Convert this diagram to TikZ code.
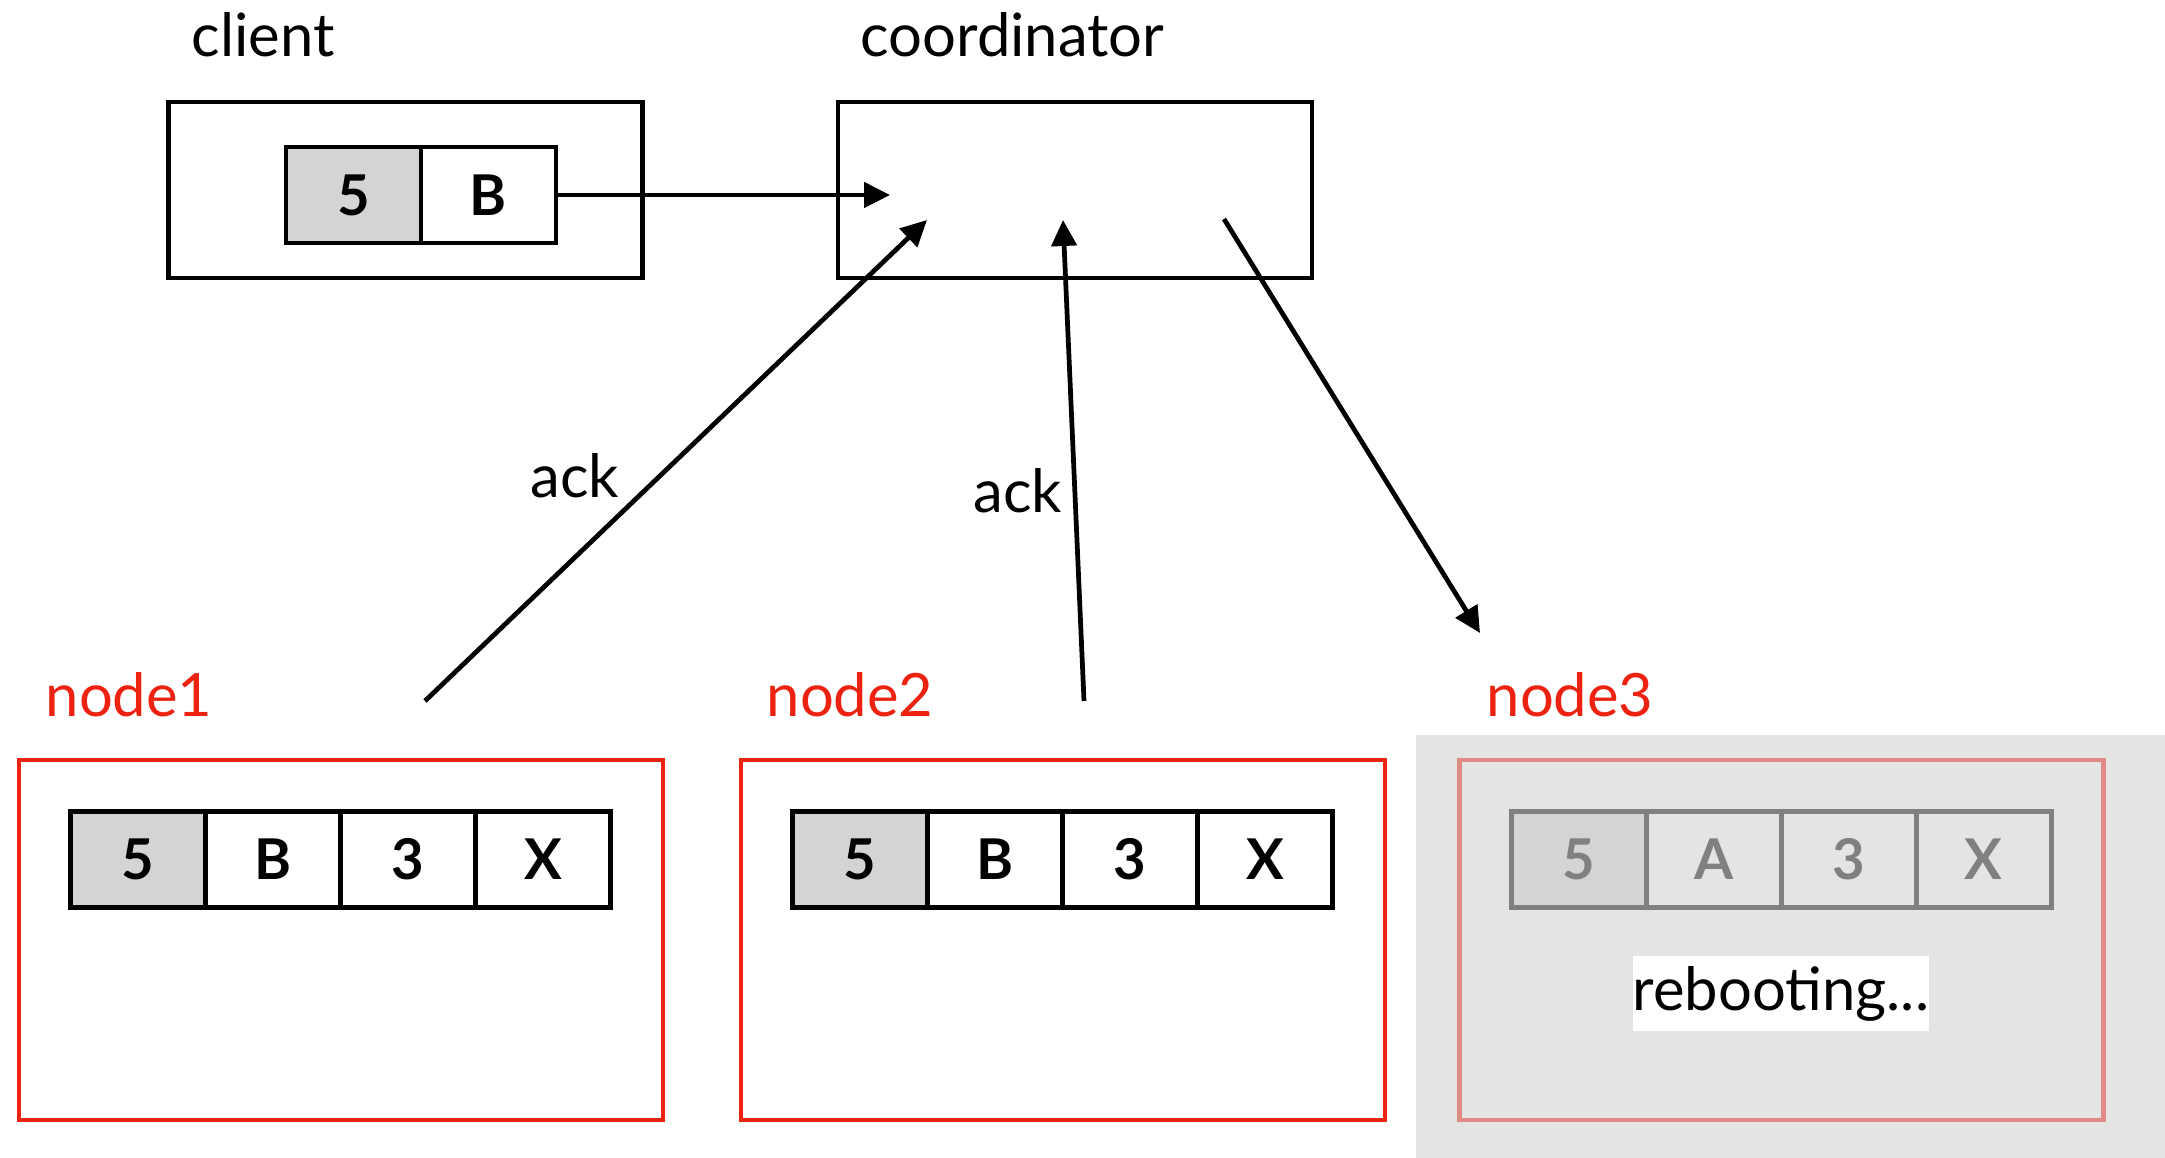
\documentclass[tikz,border=0pt]{standalone}
\usepackage{fontspec}
\setmainfont{Lato}
\usetikzlibrary{arrows.meta,positioning}

\definecolor{nodered}{HTML}{EE2211}
\definecolor{fadedred}{HTML}{E08C84}
\definecolor{cellgray}{HTML}{D4D4D4}
\definecolor{downgray}{HTML}{E4E4E4}
\definecolor{fadedink}{HTML}{808080}

\begin{document}
\begin{tikzpicture}[
        box/.style={rectangle, draw, line width=1.4pt, minimum width=4.74cm, minimum height=1.76cm},
        replica/.style={rectangle, draw=nodered, line width=1.4pt, minimum width=6.44cm, minimum height=3.6cm},
        cell/.style={rectangle, draw, line width=1.4pt, outer sep=0pt, inner sep=0pt,
            minimum width=1.35cm, minimum height=0.96cm, font=\fontsize{16}{19}\selectfont\bfseries},
        key/.style={cell, fill=cellgray},
        title/.style={anchor=base west, inner sep=0pt, font=\fontsize{17}{20}\selectfont},
        msg/.style={-{Triangle[length=0.26cm,width=0.25cm]}, line width=1.35pt}
    ]
        \useasboundingbox (0,0) rectangle (21.65,-11.58);

        % node3 is down: grey backdrop
        \fill[downgray] (14.16,-7.35) rectangle (21.65,-11.58);

        % Client
        \node[title] (clientlbl) at (1.91,-0.57) {client};
        \node[box] (client) at (4.055,-1.90) {};
        \node[key] (c5) at (3.535,-1.95) {5};
        \node[cell, right=0pt of c5] (cB) {B};

        % Coordinator
        \node[title] (coordlbl) at (8.60,-0.57) {coordinator};
        \node[box] (coord) at (10.75,-1.90) {};

        % Replicas
        \node[title, text=nodered] (n1lbl) at (0.45,-7.16) {node1};
        \node[replica] (n1) at (3.41,-9.40) {};
        \node[key, anchor=north west] (n1a) at ([shift={(0.54,-0.54)}]n1.north west) {5};
        \node[cell, right=0pt of n1a] (n1b) {B};
        \node[cell, right=0pt of n1b] (n1c) {3};
        \node[cell, right=0pt of n1c] (n1d) {X};

        \node[title, text=nodered] (n2lbl) at (7.66,-7.16) {node2};
        \node[replica] (n2) at (10.63,-9.40) {};
        \node[key, anchor=north west] (n2a) at ([shift={(0.54,-0.54)}]n2.north west) {5};
        \node[cell, right=0pt of n2a] (n2b) {B};
        \node[cell, right=0pt of n2b] (n2c) {3};
        \node[cell, right=0pt of n2c] (n2d) {X};

        \node[title, text=nodered] (n3lbl) at (14.86,-7.16) {node3};
        \node[replica, draw=fadedred] (n3) at (17.815,-9.40) {};
        \node[key, draw=fadedink, text=fadedink, anchor=north west] (n3a) at ([shift={(0.54,-0.54)}]n3.north west) {5};
        \node[cell, draw=fadedink, text=fadedink, right=0pt of n3a] (n3b) {A};
        \node[cell, draw=fadedink, text=fadedink, right=0pt of n3b] (n3c) {3};
        \node[cell, draw=fadedink, text=fadedink, right=0pt of n3c] (n3d) {X};
        \node[fill=white, inner sep=0pt, minimum width=2.94cm, minimum height=0.75cm,
            font=\fontsize{17}{20}\selectfont] (reboot) at (17.81,-9.935) {rebooting...};

        % Message ends
        \coordinate (req) at (8.90,-1.95);
        \coordinate (ack1s) at (4.25,-7.01);
        \coordinate (ack1e) at (9.27,-2.20);
        \coordinate (ack2s) at (10.84,-7.01);
        \coordinate (ack2e) at (10.63,-2.20);
        \coordinate (out3s) at (12.24,-2.19);
        \coordinate (out3e) at (14.80,-6.33);

        % Messages
        \draw[msg] (cB.east) -- (req);
        \draw[msg] (ack1s) -- (ack1e);
        \draw[msg] (ack2s) -- (ack2e);
        \draw[msg] (out3s) -- (out3e);
        \node[font=\fontsize{17}{20}\selectfont] (ack1) at (5.75,-4.76) {ack};
        \node[font=\fontsize{17}{20}\selectfont] (ack2) at (10.18,-4.91) {ack};
    \end{tikzpicture}
\end{document}
